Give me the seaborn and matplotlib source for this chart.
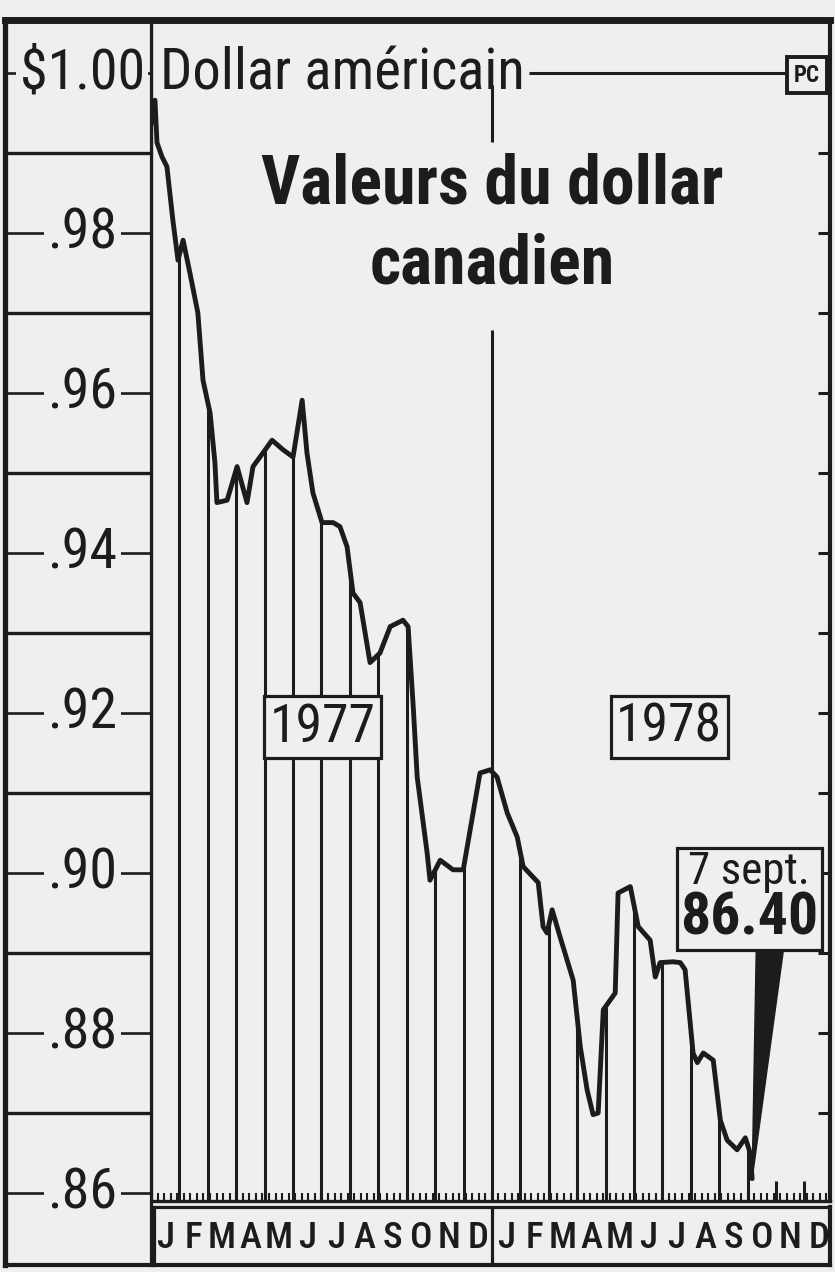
import numpy as np
import matplotlib
matplotlib.use("Agg")
import matplotlib.pyplot as plt
from matplotlib import font_manager as fm
import seaborn as sns
from matplotlib.offsetbox import TextArea, VPacker, AnnotationBbox

# ---------------- données ----------------
# position en mois depuis le 1er janvier 1977
mois = [0.00, 0.07, 0.14, 0.21, 0.39, 0.56, 0.77, 0.95, 1.13, 1.37,
        1.65, 1.83, 2.08, 2.25, 2.32, 2.68, 3.03, 3.38, 3.59, 3.94,
        4.26, 4.65, 5.00, 5.32, 5.49, 5.70, 6.02, 6.41, 6.65, 6.90,
        7.11, 7.36, 7.71, 8.06, 8.42, 8.87, 9.05, 9.23, 9.37, 9.72,
        9.82, 10.18, 10.63, 10.99, 11.58, 11.94, 12.18, 12.54, 12.89, 13.10,
        13.63, 13.80, 13.94, 14.12, 14.40, 14.86, 15.11, 15.35, 15.56, 15.74,
        15.92, 16.34, 16.44, 16.87, 17.15, 17.57, 17.75, 17.92, 18.38, 18.63,
        18.80, 19.08, 19.23, 19.44, 19.79, 20.04, 20.28, 20.63, 20.92, 21.09,
        21.16]
valeur = [0.9935, 0.9963, 0.9966, 0.9913, 0.9895, 0.9883, 0.9816, 0.9766, 0.9791, 0.9750,
          0.9700, 0.9616, 0.9575, 0.9513, 0.9463, 0.9466, 0.9508, 0.9463, 0.9508, 0.9525,
          0.9541, 0.9529, 0.9520, 0.9591, 0.9525, 0.9475, 0.9438, 0.9438, 0.9433, 0.9408,
          0.9350, 0.9338, 0.9263, 0.9275, 0.9308, 0.9316, 0.9308, 0.9208, 0.9120, 0.9025,
          0.8991, 0.9016, 0.9004, 0.9004, 0.9125, 0.9129, 0.9120, 0.9075, 0.9045, 0.9008,
          0.8988, 0.8933, 0.8925, 0.8954, 0.8920, 0.8866, 0.8783, 0.8729, 0.8698, 0.8700,
          0.8829, 0.8850, 0.8975, 0.8983, 0.8933, 0.8916, 0.8870, 0.8888, 0.8889, 0.8888,
          0.8879, 0.8775, 0.8763, 0.8775, 0.8766, 0.8691, 0.8666, 0.8654, 0.8669, 0.8650,
          0.8618]

lettres_mois = list("JFMAMJJASOND") * 2
valeurs_y = [1.00, 0.98, 0.96, 0.94, 0.92, 0.90, 0.88, 0.86]
etiquettes_y = [r"\$1.00", ".98", ".96", ".94", ".92", ".90", ".88", ".86"]
lignes_y = [0.99, 0.97, 0.95, 0.93, 0.91, 0.89, 0.87]
annees = ["1977", "1978"]
titre = ["Valeurs du dollar", "canadien"]
reference = "Dollar américain"
note_date = "7 sept."
note_valeur = "86.40"

# ---------------- style ----------------
INK = "#1c1c1c"
BG = "#efefed"
sns.set_theme(style="white")


def has_font(name):
    try:
        fm.findfont(fm.FontProperties(family=name), fallback_to_default=False)
        return True
    except Exception:
        return False


FAM = "Liberation Sans"
for cand in ["Liberation Sans Narrow", "Roboto Condensed", "Open Sans Condensed",
             "Noto Sans Condensed", "DejaVu Sans Condensed"]:
    if has_font(cand):
        FAM = cand
        break
plt.rcParams["font.family"] = [FAM, "DejaVu Sans"]
plt.rcParams["text.color"] = INK

W, H = 835, 1272
fig = plt.figure(figsize=(W / 100, H / 100), dpi=100, facecolor=BG)
renderer = fig.canvas.get_renderer()


def fx(px):
    return px / W


def fy(py):
    return 1 - py / H


def fit(t, target_px):
    w = t.get_window_extent(renderer).width
    t.set_fontsize(t.get_fontsize() * target_px / w)
    return t.get_fontsize()


def size_for(text, target_px, weight="normal"):
    t = fig.text(0, 0, text, fontsize=40, fontweight=weight)
    s = fit(t, target_px)
    t.remove()
    return s


X0, X1 = 151, 830
Y_TOP, Y_BASE, Y_BOT = 20, 1201, 1265
YLIM = (1 - (Y_BASE - 73) / 8000, 1 + (73 - Y_TOP) / 8000)
XLIM = (0, 23.9)

# ---------------- axe principal ----------------
ax = fig.add_axes([fx(X0), fy(Y_BASE), fx(X1 - X0), (Y_BASE - Y_TOP) / H])
ax.set_facecolor(BG)
ax.set_xlim(*XLIM)
ax.set_ylim(*YLIM)
bas = YLIM[0]

# lignes de mois (du bas jusqu'à la courbe)
ms = np.arange(1, 22)
hauts = np.interp(ms, mois, valeur)
garde = ms != 12
ax.vlines(ms[garde], bas, hauts[garde], color=INK, lw=2.2, zorder=2)
ax.vlines([22, 23], bas, bas + 0.0025, color=INK, lw=2.2, zorder=2)
# séparation des années
ax.vlines(12, bas, 0.9679, color=INK, lw=2.2, zorder=2)
ax.vlines(12, 0.9914, 0.9985, color=INK, lw=2.2, zorder=2)

sns.lineplot(x=mois, y=valeur, ax=ax, color=INK, lw=3.5, estimator=None,
             sort=False, zorder=4, solid_joinstyle="round", solid_capstyle="round")

# référence dollar américain
t_ref = ax.text(0.32, 0.998, reference, fontsize=40, ha="left", va="baseline", color=INK, zorder=6)
fit(t_ref, 365)
ax.hlines(1.0, 13.3, 22.3, color=INK, lw=2.2, zorder=3)
t_pc = ax.text(23.08, 0.99975, "PC", fontsize=20, fontweight="bold", ha="center", va="center",
               color=INK, zorder=6,
               bbox=dict(boxstyle="square,pad=0.3", fc=BG, ec=INK, lw=2.8))
fit(t_pc, 26)

# titre
t1 = ax.text(12, 0.98375, titre[0], fontsize=50, fontweight="bold", ha="center", va="baseline", zorder=6)
s_titre = fit(t1, 462)
ax.text(12, 0.97375, titre[1], fontsize=s_titre, fontweight="bold", ha="center", va="baseline", zorder=6)

# étiquettes des années
s_an = size_for("1978", 106)
for xm, an in zip([6.04, 18.24], annees):
    ax.text(xm, 0.91825, an, fontsize=s_an, ha="center", va="center", zorder=5,
            bbox=dict(boxstyle="square,pad=0.1", fc=BG, ec=INK, lw=2.3))

# note du 7 septembre
s_date = size_for(note_date, 122)
s_val = size_for(note_valeur, 138, "bold")
ta1 = TextArea(note_date, textprops=dict(fontsize=s_date, color=INK))
ta2 = TextArea(note_valeur, textprops=dict(fontsize=s_val, fontweight="bold", color=INK))
pack = VPacker(children=[ta1, ta2], align="center", pad=0, sep=-2)
ab = AnnotationBbox(pack, xy=(mois[-1], valeur[-1]), xybox=(21.06, 0.8968),
                    xycoords="data", boxcoords="data", frameon=True, pad=0.22,
                    bboxprops=dict(facecolor=BG, edgecolor=INK, linewidth=2.3),
                    arrowprops=dict(arrowstyle="wedge,tail_width=0.7,shrink_factor=0.5",
                                    mutation_scale=20, facecolor=INK, edgecolor=INK,
                                    relpos=(0.65, 0.0), shrinkA=0, shrinkB=0),
                    zorder=7)
ax.add_artist(ab)

# axes / cadre
ax.set_xticks([])
ax.set_xticks(np.arange(0, 24, 12 / 52), minor=True)
ax.set_yticks(np.round(np.arange(0.87, 1.0001, 0.01), 2))
ax.yaxis.tick_right()
ax.tick_params(axis="y", which="major", direction="in", length=9, width=2.2, color=INK,
               right=True, left=False, labelright=False, labelleft=False)
ax.tick_params(axis="x", which="minor", direction="in", length=6, width=1.5, color=INK,
               bottom=True, top=False, labelbottom=False)
for side, lw in [("top", 5.0), ("right", 3.0), ("left", 2.3), ("bottom", 2.4)]:
    ax.spines[side].set_visible(True)
    ax.spines[side].set_color(INK)
    ax.spines[side].set_linewidth(lw)

# ---------------- colonne de gauche (échelle) ----------------
axl = fig.add_axes([fx(5), fy(Y_BOT), fx(X0 - 5), (Y_BOT - Y_TOP) / H])
axl.set_facecolor(BG)
axl.set_xlim(0, 1)
axl.set_ylim(1 - (Y_BOT - 73) / 8000, YLIM[1])
axl.hlines(lignes_y, 0, 1, color=INK, lw=2.4)
axl.hlines(valeurs_y, 0, 1, color=INK, lw=1.9)
s_lab = size_for(".98", 70)
for v, lab in zip(valeurs_y, etiquettes_y):
    axl.text(0.53, v, lab, fontsize=s_lab, ha="center", va="center", color=INK,
             bbox=dict(boxstyle="square,pad=0.06", fc=BG, ec="none"))
axl.set_xticks([])
axl.set_yticks([])
for side, lw in [("top", 5.0), ("right", 2.3), ("left", 3.8), ("bottom", 3.0)]:
    axl.spines[side].set_visible(True)
    axl.spines[side].set_color(INK)
    axl.spines[side].set_linewidth(lw)

# ---------------- bande des mois ----------------
axs = fig.add_axes([fx(X0 + 3), fy(Y_BOT), fx(X1 - X0 - 3), (Y_BOT - 1207) / H])
axs.set_facecolor(BG)
axs.set_xlim(XLIM[0] + 3 / 28.4, XLIM[1])
axs.set_ylim(0, 1)
s_mois = size_for("M", 28)
for i, l in enumerate(lettres_mois):
    axs.text(i + 0.5, 0.47, l, fontsize=s_mois, ha="center", va="center", color=INK,
             fontweight="medium")
axs.axvline(12, color=INK, lw=2.3)
axs.set_xticks([])
axs.set_yticks([])
for side, lw in [("top", 2.3), ("right", 3.0), ("left", 2.3), ("bottom", 3.0)]:
    axs.spines[side].set_visible(True)
    axs.spines[side].set_color(INK)
    axs.spines[side].set_linewidth(lw)

fig.savefig("out.png", dpi=100, facecolor=BG)
